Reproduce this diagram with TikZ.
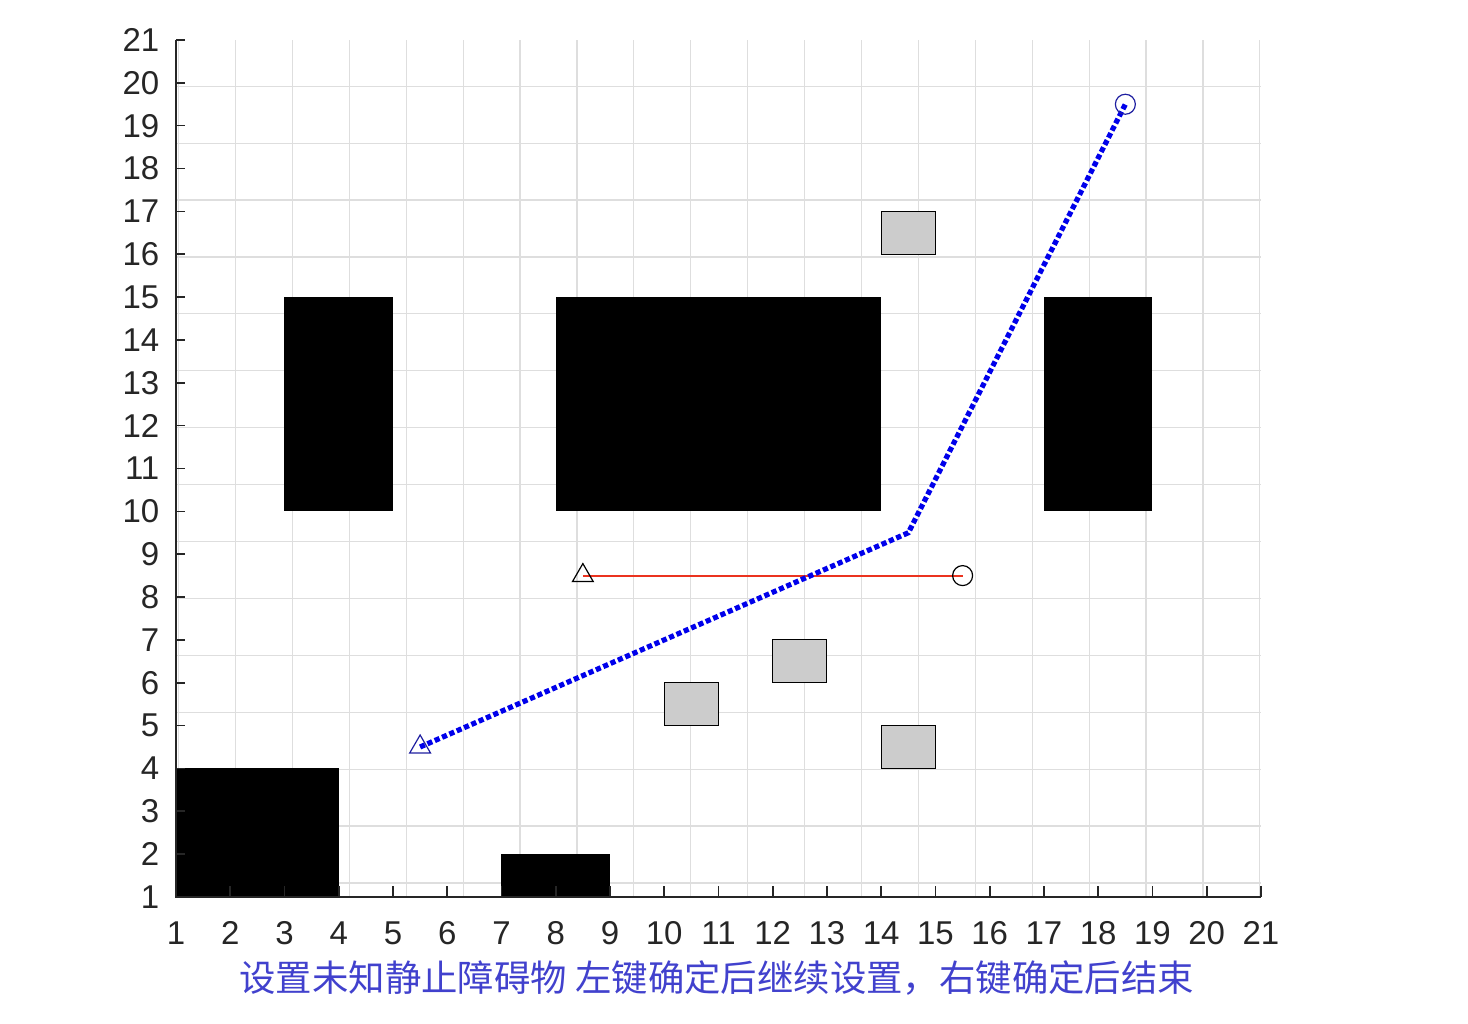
\documentclass[tikz,border=0pt]{standalone}
\usepackage{fontspec}
\setmainfont{Liberation Sans}
\newfontfamily\cjk{Noto Sans CJK SC}
\usetikzlibrary{shapes.geometric}
\definecolor{gridgray}{RGB}{222,222,222}
\definecolor{axisgray}{RGB}{38,38,38}
\definecolor{obsgray}{RGB}{204,204,204}
\definecolor{pathblue}{RGB}{0,0,235}
\definecolor{markblue}{RGB}{30,30,160}
\definecolor{trackred}{rgb}{0.92,0.2,0.12}
\definecolor{txtblue}{RGB}{65,65,205}
\tikzset{
  gridline/.style={draw=gridgray, line width=0.6pt},
  axisline/.style={draw=axisgray, line width=0.8pt},
  wall/.style={fill=black},
  unknown/.style={fill=obsgray, draw=black, line width=0.5pt},
  ticklabel/.style={text=axisgray, font=\fontsize{16.5}{18}\selectfont, inner sep=0pt},
  tri/.style={regular polygon, regular polygon sides=3, minimum size=12pt, inner sep=0pt, line width=0.6pt},
  ring/.style={circle, minimum size=10pt, inner sep=0pt, line width=0.6pt},
  bluepath/.style={draw=pathblue, line width=2.6pt, dash pattern=on 2.6pt off 1.4pt},
  redpath/.style={color=trackred, line width=1pt}
}
\begin{document}
\begin{tikzpicture}[x=27.125pt, y=21.425pt]
\useasboundingbox (-2.2442,-1.9638) rectangle (24.816,21.933);
% grid
\draw[gridline] (1,1) grid (21,21);
% known obstacles
\fill[wall] (3,10) rectangle (5,15);
\fill[wall] (8,10) rectangle (14,15);
\fill[wall] (17,10) rectangle (19,15);
\fill[wall] (1,1) rectangle (4,4);
\fill[wall] (7,1) rectangle (9,2);
% unknown static obstacles
\filldraw[unknown] (14,16) rectangle (15,17);
\filldraw[unknown] (12,6) rectangle (13,7);
\filldraw[unknown] (10,5) rectangle (11,6);
\filldraw[unknown] (14,4) rectangle (15,5);
% axes
\draw[axisline] (1,21) -- (1,1) -- (21,1);
\foreach \i in {1,...,21} {
  \draw[axisline] (\i,1) -- ++(0,5.5pt);
  \draw[axisline] (1,\i) -- ++(4.5pt,0);
  \node[ticklabel, anchor=center] (xl\i) at (\i,0.16) {\i};
  \node[ticklabel, anchor=east] (yl\i) at (0.70,\i) {\i};
}
% red line
\coordinate (rs) at (8.5,8.5);
\coordinate (re) at (15.5,8.5);
\draw[redpath] (rs) -- (re);
\node[tri, draw=black] (rsm) at (rs) {};
\node[ring, draw=black] (rem) at (re) {};
% blue path
\coordinate (bs) at (5.5,4.5);
\coordinate (bm) at (14.5,9.5);
\coordinate (be) at (18.5,19.5);
\draw[bluepath] (bs) -- (bm) -- (be);
\node[tri, draw=markblue] (bsm) at (bs) {};
\node[ring, draw=markblue] (bem) at (be) {};
% caption
\node[text=txtblue, font=\cjk\fontsize{18.2}{22}\selectfont, inner sep=0pt] (cap) at (10.97,-0.89) {设置未知静止障碍物 左键确定后继续设置，右键确定后结束};
\end{tikzpicture}
\end{document}
